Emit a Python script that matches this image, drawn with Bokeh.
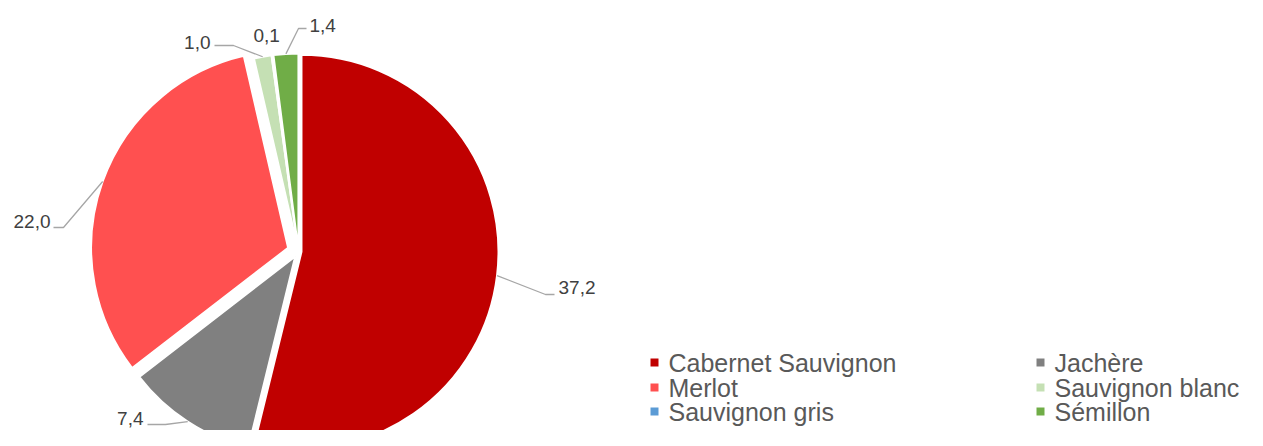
import math
from bokeh.plotting import figure
from bokeh.models import Range1d
from bokeh.core.properties import value
from bokeh.embed import file_html
from bokeh.resources import INLINE

# ---- data ----
categories = ["Cabernet Sauvignon", "Jachère", "Merlot",
              "Sauvignon blanc", "Sauvignon gris", "Sémillon"]
values = [37.2, 7.4, 22.0, 1.0, 0.1, 1.4]
colors = ["#C00000", "#808080", "#FF5050", "#C5E0B4", "#5B9BD5", "#70AD47"]

# ---- layout (pixels from the top-left of the figure) ----
FW, FH = 1247, 430
CX, CY, R = 298, 251, 197
explode = [3, 6, 11, 1, 1, 1]
# label anchor (x, y, align) and leader elbow (x, y, horizontal end x)
label_pos = [(558, 287, "left"), (143, 418, "right"), (50, 221, "right"),
             (210, 42, "right"), (253, 35, "left"), (309, 25, "left")]
leader_elbow = [(545, 294, 554), (165, 424, 147), (63, 227, 53),
                (233, 45, 214), None, (298, 28, 306)]
legend_sq_x = [654, 1040]
legend_txt_x = [668, 1054]
legend_row_y = [362, 387, 411]

def fy(y):
    return FH - y

p = figure(width=FW, height=FH, output_backend="svg", toolbar_location=None,
           x_range=Range1d(0, FW), y_range=Range1d(0, FH),
           x_axis_type=None, y_axis_type=None, min_border=0,
           outline_line_color=None)
p.grid.visible = False
p.background_fill_color = "white"

total = sum(values)
cum = 0.0
wx, wy, sa, ea = [], [], [], []
lead_xs, lead_ys = [], []
for i, v in enumerate(values):
    t0 = cum / total * 2 * math.pi
    cum += v
    t1 = cum / total * 2 * math.pi
    tm = (t0 + t1) / 2
    ax = CX + explode[i] * math.sin(tm)
    ay = CY - explode[i] * math.cos(tm)
    wx.append(ax)
    wy.append(fy(ay))
    sa.append(math.pi / 2 - t0)
    ea.append(math.pi / 2 - t1)
    ex = ax + R * math.sin(tm)
    ey = ay - R * math.cos(tm)
    el = leader_elbow[i]
    if el is not None:
        lead_xs.append([ex, el[0], el[2]])
        lead_ys.append([fy(ey), fy(el[1]), fy(el[1])])

p.wedge(x=wx, y=wy, radius=R, start_angle=sa, end_angle=ea, direction="clock",
        fill_color=colors, line_color="white", line_width=2)

p.multi_line(xs=lead_xs, ys=lead_ys, line_color="#A6A6A6", line_width=1.3)

lab_text = [f"{v:.1f}".replace(".", ",") for v in values]
for i, t in enumerate(lab_text):
    lx, ly, al = label_pos[i]
    p.text(x=[lx], y=[fy(ly)], text=[t], text_align=al, text_baseline="middle",
           text_font=value("Liberation Sans"), text_font_size="19px",
           text_color="#404040")

# legend (2 columns, row-major)
sq_x, sq_y, tx, ty = [], [], [], []
for i, c in enumerate(categories):
    col, row = i % 2, i // 2
    sq_x.append(legend_sq_x[col])
    sq_y.append(fy(legend_row_y[row]))
    tx.append(legend_txt_x[col])
    ty.append(fy(legend_row_y[row]))
p.rect(x=sq_x, y=sq_y, width=8, height=8, fill_color=colors, line_color=None)
p.text(x=tx, y=ty, text=categories, text_align="left", text_baseline="middle",
       text_font=value("Liberation Sans"), text_font_size="25px",
       text_color="#595959")

open("out.html", "w").write(file_html(p, INLINE))
